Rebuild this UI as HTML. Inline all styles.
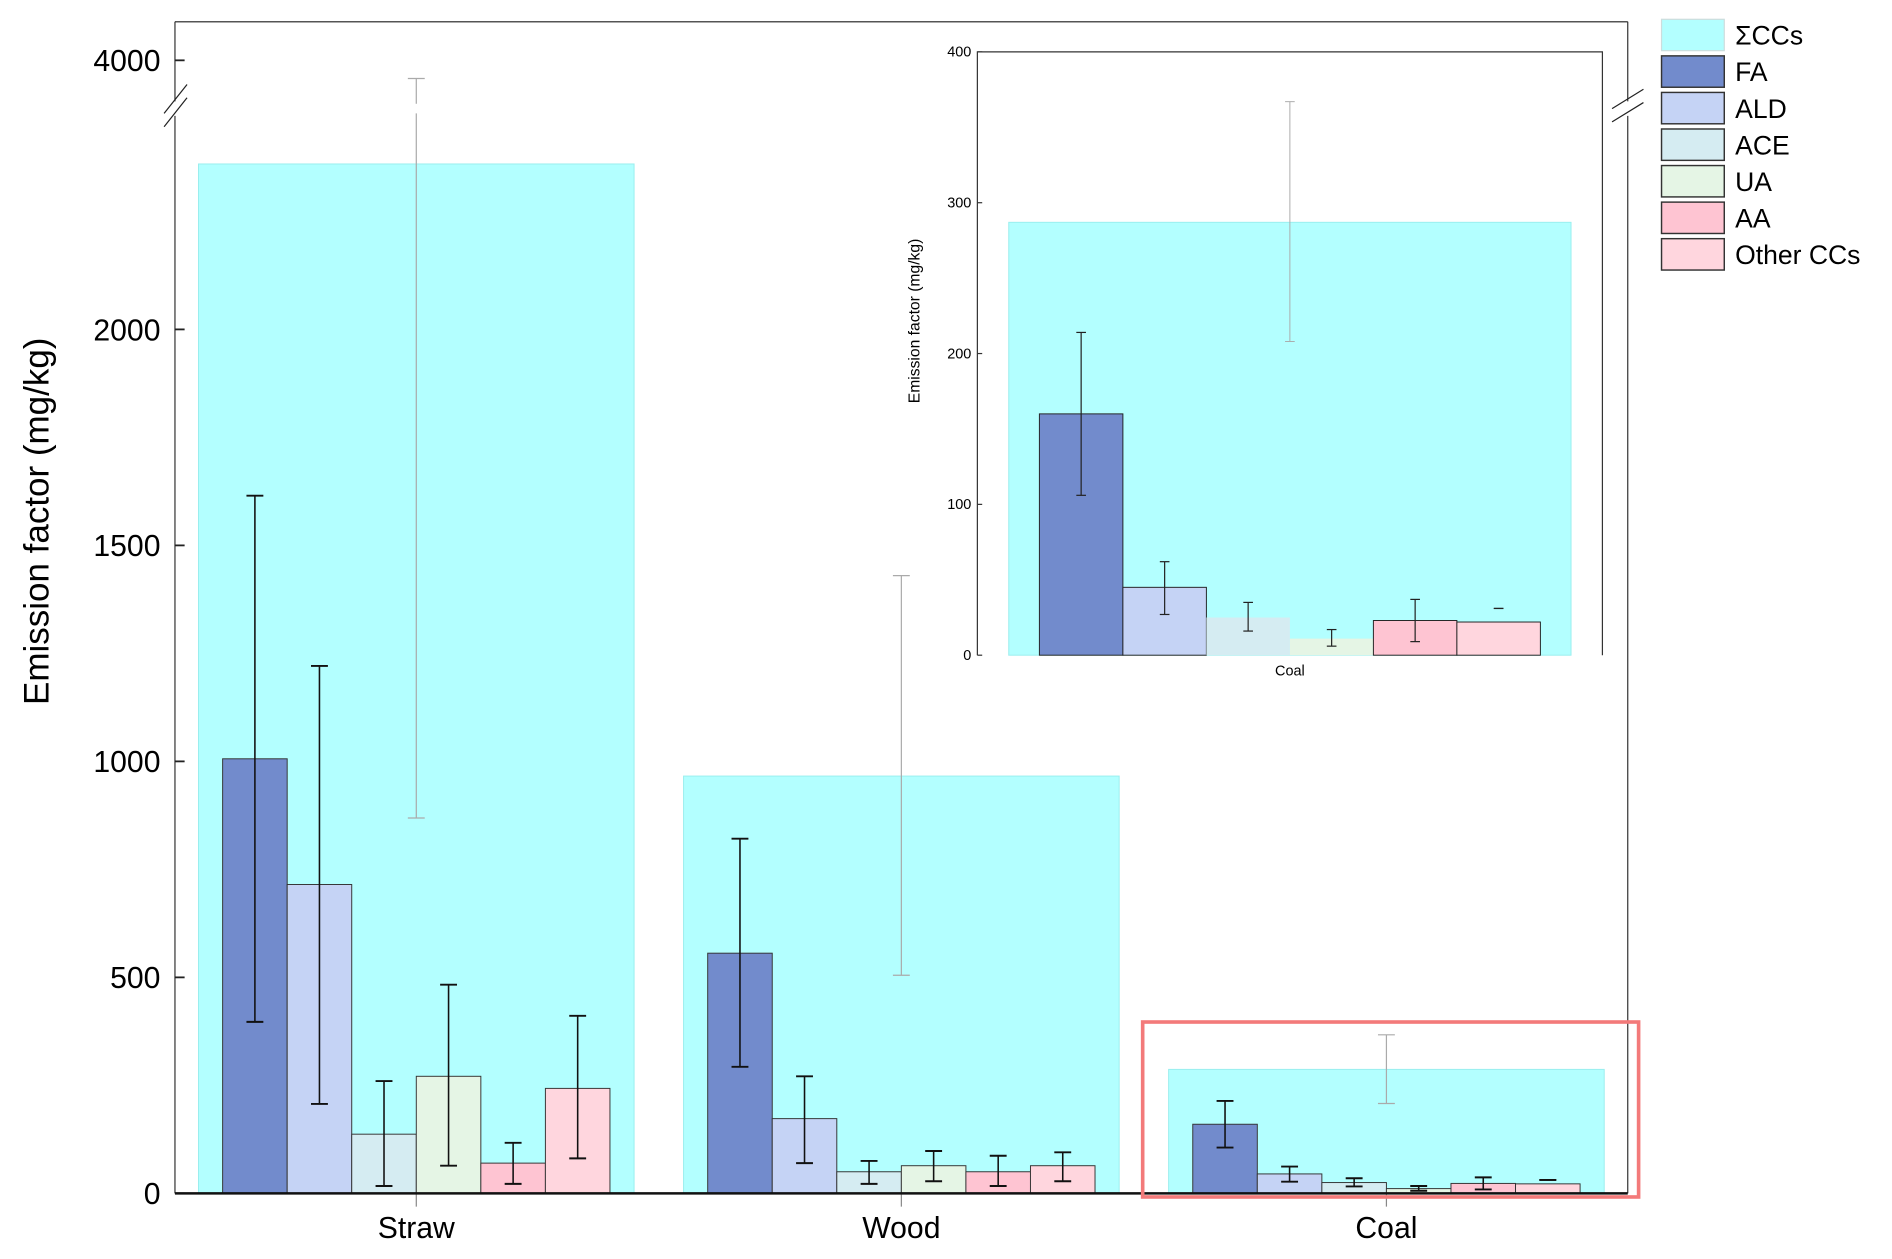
<!DOCTYPE html>
<html><head><meta charset="utf-8"><style>
html,body{margin:0;padding:0;background:#fff;}
svg{display:block;font-family:"Liberation Sans",Arial,sans-serif;}
</style></head><body>
<svg id="chart" width="1892" height="1259" viewBox="0 0 1568 1043.4" preserveAspectRatio="none" xmlns="http://www.w3.org/2000/svg"></svg>
<script>
const categories = ["Straw","Wood","Coal"];
const seriesNames = ["FA","ALD","ACE","UA","AA","Other CCs"];
const totalValues = [2383, 966, 287];
const totalErrLow = [869, 505, 208];
const totalErrHigh = [3958, 1430, 367];
const faValues = [1006, 556, 160];
const aldValues = [715, 173, 45];
const aceValues = [137, 50, 25];
const uaValues = [271, 64, 11];
const aaValues = [70, 50, 23];
const otherValues = [243, 64, 22];
const errLow = [[397,293,106],[207,70,27],[17,22,16],[64,28,6],[22,17,9],[81,28,31]];
const errHigh = [[1615,821,214],[1221,271,62],[260,75,35],[483,98,17],[117,87,37],[411,95,31]];
const yTicks = [0,500,1000,1500,2000,4000];
const insetTicks = [0,100,200,300,400];
const colors = ["#728bcc","#c5d3f5","#d5ecf2","#e5f5e5","#fec4d2","#ffd6de"];
const totalColor = "#b3ffff";
const seriesValues = [faValues,aldValues,aceValues,uaValues,aaValues,otherValues];

const NS="http://www.w3.org/2000/svg";
const svg=document.getElementById('chart');
function mk(tag,attrs,parent){const e=document.createElementNS(NS,tag);for(const k in attrs)e.setAttribute(k,attrs[k]);(parent||svg).appendChild(e);return e;}

// main axis functions
const X0=145,X1=1349,Y0=989;
function yMain(v){ if(v<=2500) return Y0 - v*0.358; return 50 - (v-4000)*0.358; }
const groupCenters=[345,747,1148];
function xGroup(i){return groupCenters[0] + i*(groupCenters[1]-groupCenters[0]);}
const subW=53.5;
function xSub(i,j){return xGroup(i)-3*subW + j*subW;}

// frame
let e;
e=mk('line',{x1:X0,y1:18,x2:X1,y2:18,stroke:'#555','stroke-width':1.2});

e=mk('line',{x1:X0,y1:18,x2:X0,y2:84,stroke:'#333','stroke-width':1});

e=mk('line',{x1:X0,y1:96,x2:X0,y2:Y0,stroke:'#333','stroke-width':1});

e=mk('line',{x1:X1,y1:18,x2:X1,y2:84,stroke:'#333','stroke-width':1});

e=mk('line',{x1:X1,y1:96,x2:X1,y2:Y0,stroke:'#333','stroke-width':1});

[[X0,82],[X0,93]].forEach(p=>{e=mk('line',{x1:p[0]-9,y1:p[1]+12,x2:p[0]+10,y2:p[1]-12,stroke:'#222','stroke-width':1});
});
[[X1,82],[X1,93]].forEach(p=>{e=mk('line',{x1:p[0]-13,y1:p[1]+8,x2:p[0]+13,y2:p[1]-8,stroke:'#222','stroke-width':1});
});

// y ticks
yTicks.forEach(t=>{const y=yMain(t);
 e=mk('line',{x1:X0,y1:y,x2:X0+8,y2:y,stroke:'#222','stroke-width':1.5});
 
 e=mk('text',{x:133,y:y+9,'text-anchor':'end','font-size':25,fill:'#000'});e.textContent=t;
 });
e=mk('text',{x:40,y:432,'text-anchor':'middle','font-size':29,fill:'#000',transform:'rotate(-90 40 432)'});
e.textContent='Emission factor (mg/kg)';


// bars
categories.forEach((c,i)=>{
 const cx=xGroup(i);
 e=mk('rect',{x:cx-180.5,y:yMain(totalValues[i]),width:361,height:Y0-yMain(totalValues[i]),fill:totalColor,stroke:'#9ee',"stroke-width":0.8});
 
 seriesValues.forEach((arr,j)=>{
  const x=xSub(i,j),y=yMain(arr[i]);
  e=mk('rect',{x:x,y:y,width:subW,height:Y0-y,fill:colors[j],stroke:'#333','stroke-width':0.8});
  
 });
 // total error bar (gray)
 const tl=yMain(totalErrLow[i]), th=yMain(totalErrHigh[i]);
 if(totalErrHigh[i]>2500){
  e=mk('line',{x1:cx,y1:tl,x2:cx,y2:94,stroke:'#aaa','stroke-width':1});
  
  e=mk('line',{x1:cx,y1:86,x2:cx,y2:th,stroke:'#aaa','stroke-width':1});
  
 } else {
  e=mk('line',{x1:cx,y1:tl,x2:cx,y2:th,stroke:'#aaa','stroke-width':1});
  
 }
 [tl,th].forEach(y=>{e=mk('line',{x1:cx-7,y1:y,x2:cx+7,y2:y,stroke:'#aaa','stroke-width':1});
  });
 seriesValues.forEach((arr,j)=>{
  const x=xSub(i,j)+subW/2,yl=yMain(errLow[j][i]),yh=yMain(errHigh[j][i]);
  e=mk('line',{x1:x,y1:yl,x2:x,y2:yh,stroke:'#111','stroke-width':1.3});
  
  [yl,yh].forEach(y=>{e=mk('line',{x1:x-7,y1:y,x2:x+7,y2:y,stroke:'#111','stroke-width':1.6});
   });
 });
 e=mk('line',{x1:cx,y1:Y0,x2:cx,y2:1000,stroke:'#888','stroke-width':1});
 
 e=mk('text',{x:cx,y:1026,'text-anchor':'middle','font-size':25,fill:'#000'});e.textContent=c;
 
});
e=mk('line',{x1:X0,y1:Y0,x2:X1,y2:Y0,stroke:'#111','stroke-width':2});


// highlight rect
e=mk('rect',{x:947,y:847,width:411,height:145,fill:'none',stroke:'#f37a7a','stroke-width':3});


// inset
const IX0=810,IX1=1328,IY0=543;
function yIn(v){return IY0 - v*1.25;}
const inW=69.2, inC=1069;
e=mk('rect',{x:IX0,y:43,width:IX1-IX0,height:IY0-43,fill:'#fff',stroke:'none'});

e=mk('rect',{x:836,y:yIn(totalValues[2]),width:466,height:IY0-yIn(totalValues[2]),fill:totalColor,stroke:'#9ee','stroke-width':0.8});

seriesValues.forEach((arr,j)=>{
 const x=inC-3*inW+j*inW,y=yIn(arr[2]);
 e=mk('rect',{x:x,y:y,width:inW,height:IY0-y,fill:colors[j],stroke:(j==2||j==3)?'none':'#222','stroke-width':0.8});
 
});
{const yl=yIn(totalErrLow[2]),yh=yIn(totalErrHigh[2]);
 e=mk('line',{x1:inC,y1:yl,x2:inC,y2:yh,stroke:'#aaa','stroke-width':0.8});
 
 [yl,yh].forEach(y=>{e=mk('line',{x1:inC-4,y1:y,x2:inC+4,y2:y,stroke:'#aaa','stroke-width':0.8});
 });}
seriesValues.forEach((arr,j)=>{
 const x=inC-3*inW+j*inW+inW/2,yl=yIn(errLow[j][2]),yh=yIn(errHigh[j][2]);
 e=mk('line',{x1:x,y1:yl,x2:x,y2:yh,stroke:'#222','stroke-width':1});
 
 [yl,yh].forEach(y=>{e=mk('line',{x1:x-4,y1:y,x2:x+4,y2:y,stroke:'#222','stroke-width':1});
 });
});
e=mk('polyline',{points:`${IX0},${IY0} ${IX0},43 ${IX1},43 ${IX1},${IY0}`,fill:'none',stroke:'#333','stroke-width':1});

insetTicks.forEach(t=>{const y=yIn(t);
 e=mk('line',{x1:IX0,y1:y,x2:IX0+4,y2:y,stroke:'#333','stroke-width':1});
 
 e=mk('text',{x:IX0-5,y:y+4,'text-anchor':'end','font-size':12,fill:'#000'});e.textContent=t;
 });
e=mk('text',{x:inC,y:560,'text-anchor':'middle','font-size':12,fill:'#000'});e.textContent='Coal';

e=mk('text',{x:762,y:266,'text-anchor':'middle','font-size':13,fill:'#000',transform:'rotate(-90 762 266)'});
e.textContent='Emission factor (mg/kg)';


// legend
const legNames=["ΣCCs"].concat(seriesNames), legColors=[totalColor].concat(colors);
legNames.forEach((n,k)=>{const y=16+k*30.3;
 e=mk('rect',{x:1377,y:y,width:52,height:26,fill:legColors[k],stroke:k==0?'#cdd':'#333','stroke-width':k==0?1:1.2});
 
 e=mk('text',{x:1438,y:y+21,'font-size':22,fill:'#000'});e.textContent=n;
 
});
</script>
</body></html>
